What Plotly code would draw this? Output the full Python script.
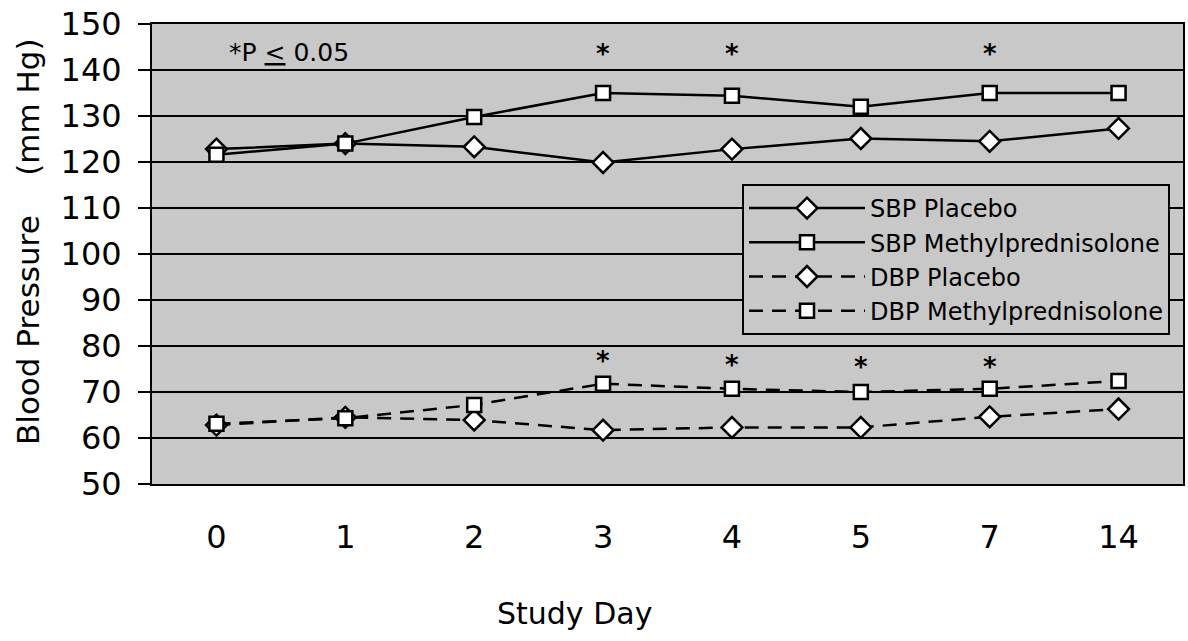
import plotly.graph_objects as go

days = ['0', '1', '2', '3', '4', '5', '7', '14']
sbp_placebo = [122.8, 124.0, 123.3, 119.9, 122.8, 125.1, 124.5, 127.3]
sbp_methyl = [121.6, 124.0, 129.8, 135.0, 134.4, 132.0, 135.0, 135.0]
dbp_placebo = [62.8, 64.5, 63.9, 61.7, 62.3, 62.3, 64.6, 66.3]
dbp_methyl = [63.1, 64.3, 67.2, 71.8, 70.7, 70.0, 70.7, 72.4]

sig_sbp_days = ['3', '4', '7']
sig_sbp_y = [143.4, 143.4, 143.4]
sig_dbp_days = ['3', '4', '5', '7']
sig_dbp_y = [76.8, 75.8, 75.5, 75.5]

y_ticks = [50, 60, 70, 80, 90, 100, 110, 120, 130, 140, 150]

FONT = "DejaVu Sans"
GRAY = "#C8C8C8"

W, H = 1188, 641
L, T, R, B = 152, 24, 5, 157
PW = W - L - R
PH = H - T - B

fig = go.Figure()

def add(name, y, symbol, dash, msize):
    fig.add_trace(go.Scatter(
        x=days, y=y, name=name, mode="lines+markers",
        line=dict(color="black", width=2.5, dash=dash),
        marker=dict(symbol=symbol, size=msize, color="white",
                    line=dict(color="black", width=2.5)),
    ))

add("SBP Placebo", sbp_placebo, "diamond", "solid", 16)
add("SBP Methylprednisolone", sbp_methyl, "square", "solid", 14)
add("DBP Placebo", dbp_placebo, "diamond", "14px,9px", 16)
add("DBP Methylprednisolone", dbp_methyl, "square", "14px,9px", 14)

for d, v in zip(sig_sbp_days + sig_dbp_days, sig_sbp_y + sig_dbp_y):
    fig.add_annotation(x=days.index(d), y=v, text="<b>*</b>", showarrow=False,
                       font=dict(family=FONT, size=26, color="black"))

fig.add_annotation(x=(227 - 152) / PW, xref="paper", y=143.9, yref="y",
                   xanchor="left", text="*P <u>&lt;</u> 0.05", showarrow=False,
                   font=dict(family=FONT, size=25, color="black"))

fig.add_annotation(x=(574 - 152) / PW, xref="paper", y=-(613 - 484) / PH,
                   yref="paper", xanchor="center", yanchor="middle",
                   text="Study Day", showarrow=False,
                   font=dict(family=FONT, size=30, color="black"))

fig.add_annotation(x=-(152 - 28) / PW, xref="paper", y=(484 - 242) / PH,
                   yref="paper", xanchor="center", yanchor="middle",
                   text="Blood Pressure&nbsp;&nbsp;&nbsp; (mm Hg)",
                   textangle=-90, showarrow=False,
                   font=dict(family=FONT, size=31, color="black"))

fig.update_layout(
    width=W, height=H,
    margin=dict(l=L, r=R, t=T, b=B, autoexpand=False),
    paper_bgcolor="white", plot_bgcolor=GRAY,
    font=dict(family=FONT, color="black"),
    showlegend=True,
    legend=dict(x=(742 - 152) / PW, xanchor="left", y=(484 - 184) / PH,
                yanchor="top",
                bgcolor=GRAY, bordercolor="black", borderwidth=2,
                font=dict(family=FONT, size=24, color="black"),
                itemwidth=116, tracegroupgap=0),
    xaxis=dict(type="category", categoryorder="array", categoryarray=days,
               range=[-0.5, 7.5], showgrid=False, zeroline=False,
               showline=True, linecolor="black", linewidth=2, mirror=True,
               ticks="", ticklabelstandoff=24, automargin=False,
               tickfont=dict(family=FONT, size=32, color="black")),
    yaxis=dict(range=[50, 150], tickvals=y_ticks, showgrid=True,
               gridcolor="black", gridwidth=2, zeroline=False,
               showline=True, linecolor="black", linewidth=2, mirror=True,
               ticks="outside", ticklen=12, tickwidth=2, tickcolor="black",
               ticklabelstandoff=10, ticklabeloverflow="allow",
               automargin=False,
               tickfont=dict(family=FONT, size=32, color="black")),
)

fig.write_html("out.html", config={"displayModeBar": False},
               post_script="document.body.style.margin='0';")
